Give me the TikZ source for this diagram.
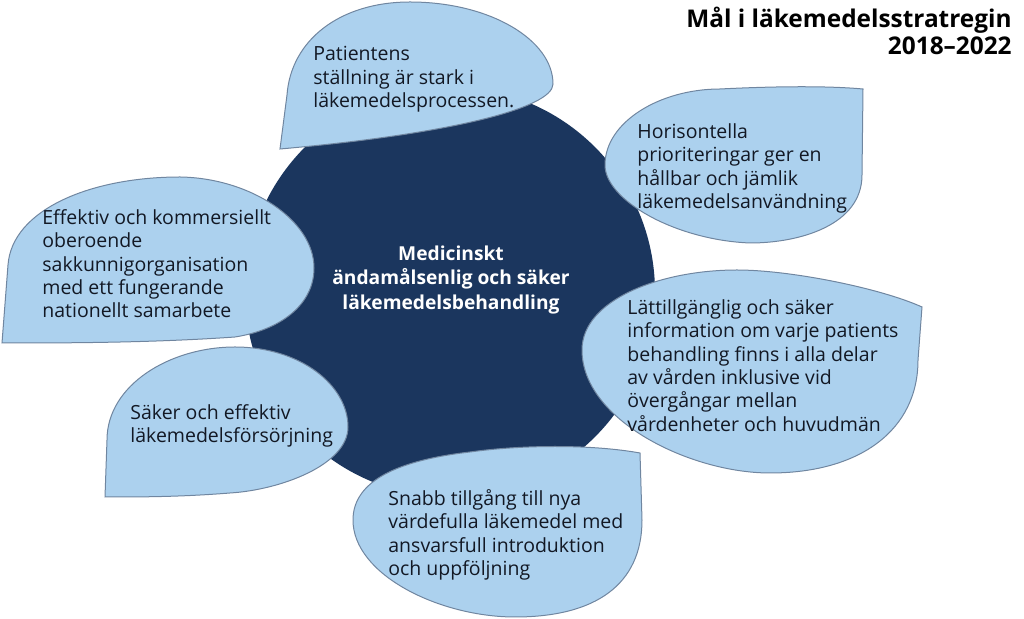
\documentclass[tikz,border=0pt]{standalone}
\usepackage{fontspec}
\setmainfont{Open Sans}
\usetikzlibrary{positioning}
\definecolor{hubnavy}{RGB}{27,54,94}
\definecolor{leaffill}{RGB}{172,209,238}
\definecolor{leafline}{RGB}{112,134,160}
\definecolor{leaftext}{RGB}{18,24,36}
\begin{document}
\begin{tikzpicture}[
  x=0.5pt, y=-0.5pt,
  hub/.style={circle, fill=hubnavy, draw=none, minimum size=205pt, inner sep=0pt},
  hubtxt/.style={text=white, align=center, inner sep=0pt,
                 font=\fontsize{9.6}{12.2}\selectfont\bfseries},
  leaf/.style={draw=leafline, fill=leaffill, line width=0.5pt},
  goal/.style={anchor=north west, align=left, inner sep=0pt, text=leaftext,
               font=\fontsize{9.75}{11.7}\selectfont},
  ttl/.style={anchor=north east, align=right, inner sep=0pt, text=black,
              font=\fontsize{12.2}{13.5}\selectfont\bfseries},
]
\useasboundingbox (0,0) rectangle (1024,619);

% === Centre ===
\node[hub] (hub) at (450,292) {};

% === Leaves ===
% top
\draw[leaf] (280,149) -- (287,95) .. controls (291,40) and (340,2) .. (410,2)
  .. controls (490,2) and (553,40) .. (553,84)
  .. controls (553,108) and (450,134) .. (280,149) -- cycle;
% upper right
\draw[leaf] (863,89) -- (862,175) .. controls (862,225) and (800,243) .. (750,243)
  .. controls (675,240) and (605,200) .. (605,165)
  .. controls (605,122) and (660,89) .. (720,89)
  .. controls (780,86) and (830,86) .. (863,89) -- cycle;
% upper left
\draw[leaf] (2,343) -- (8,265) .. controls (12,210) and (90,177) .. (180,177)
  .. controls (250,178) and (314,220) .. (314,268)
  .. controls (314,305) and (280,330) .. (235,337)
  .. controls (150,343) and (60,343) .. (2,343) -- cycle;
% lower right
\draw[leaf] (922,307) .. controls (880,288) and (790,270) .. (737,270)
  .. controls (660,270) and (582,300) .. (582,350)
  .. controls (582,420) and (690,473) .. (770,473)
  .. controls (860,473) and (918,430) .. (918,360) -- cycle;
% lower left
\draw[leaf] (105,497) -- (107,440) .. controls (107,385) and (170,347) .. (235,347)
  .. controls (300,347) and (348,385) .. (348,427)
  .. controls (348,465) and (280,490) .. (230,493)
  .. controls (180,497) and (140,497) .. (105,497) -- cycle;
% bottom
\draw[leaf] (640,453) .. controls (590,444) and (520,445) .. (470,452)
  .. controls (400,460) and (353,480) .. (353,520)
  .. controls (353,575) and (440,617) .. (515,617)
  .. controls (595,617) and (642,585) .. (642,520) -- cycle;

% === Texts ===
\node[hubtxt] (hubtext) at (451,280) {Medicinskt\\ändamålsenlig och säker\\läkemedelsbehandling};

\node[goal] (g1) at (313,46) {Patientens\\ställning är stark i\\läkemedelsprocessen.};
\node[goal] (g2) at (637,123) {Horisontella\\prioriteringar ger en\\hållbar och jämlik\\läkemedelsanvändning};
\node[goal] (g3) at (42,209) {Effektiv och kommersiellt\\oberoende\\sakkunnigorganisation\\med ett fungerande\\nationellt samarbete};
\node[goal] (g4) at (627,299) {Lättillgänglig och säker\\information om varje patients\\behandling finns i alla delar\\av vården inklusive vid\\övergångar mellan\\vårdenheter och huvudmän};
\node[goal] (g5) at (130,404) {Säker och effektiv\\läkemedelsförsörjning};
\node[goal] (g6) at (388,489) {Snabb tillgång till nya\\värdefulla läkemedel med\\ansvarsfull introduktion\\och uppföljning};

\node[ttl] (title) at (1012,7) {Mål i läkemedelsstratregin\\2018–2022};

\end{tikzpicture}
\end{document}
